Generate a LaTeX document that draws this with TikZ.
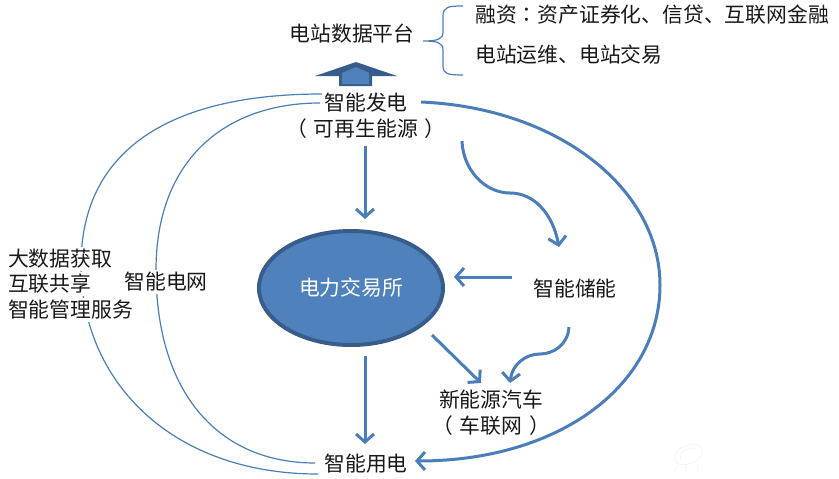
\documentclass[tikz,border=0pt]{standalone}
\usepackage{fontspec}
\setmainfont{Noto Sans CJK SC}
\newfontfamily\tcfont{Noto Sans CJK TC}
\usetikzlibrary{arrows.meta,shapes.geometric}
\definecolor{lineblue}{HTML}{4A7EBB}
\definecolor{fillblue}{HTML}{4F81BD}
\definecolor{darkblue}{HTML}{385D8A}
\definecolor{faintgreen}{HTML}{EEF7F1}
\newcommand{\lp}{\kern-7pt（\kern7pt}
\newcommand{\rp}{\kern7pt）\kern-7pt}
\newcommand{\cln}{{\tcfont ：}}
\tikzset{
  lbl/.style={inner sep=0pt,font=\fontsize{20.8}{24}\selectfont,text=black!90},
  masklbl/.style={lbl,fill=white,inner ysep=2pt},
  flowline/.style={draw=lineblue,line width=3pt,-{Straight Barb[length=8pt,width=18pt,line width=3pt]}},
  thinline/.style={draw=lineblue,line width=1.2pt}
}
\begin{document}
\begin{tikzpicture}[x=1pt,y=-1pt]
\useasboundingbox[fill=white] (0,0) rectangle (839,479);
% thin arcs, under the labels
\coordinate (o1) at (322,94);
\coordinate (o2) at (318,474);
\coordinate (i1) at (320,103);
\coordinate (i2) at (315,463);
\draw[thinline] (o1) .. controls (170,94) and (81,150) .. (81,265)
  .. controls (81,380) and (170,474) .. (o2);
\draw[thinline] (i1) .. controls (225,103) and (156,160) .. (156,270)
  .. controls (156,395) and (220,463) .. (i2);
% text nodes
\node[lbl] (plat) at (352,34) {电站数据平台};
\node[lbl,anchor=west] (fin) at (475,15) {融资\cln 资产证券化、信贷、互联网金融};
\node[lbl,anchor=west] (ops) at (475,55) {电站运维、电站交易};
\node[lbl] (gen) at (366,103) {智能发电};
\node[lbl] (gen2) at (366,129) {\lp 可再生能源\rp};
\node[masklbl] (grid) at (166,282) {智能电网};
\node[masklbl,anchor=west] (svc1) at (8,259) {大数据获取};
\node[masklbl,anchor=west] (svc2) at (8,284) {互联共享};
\node[masklbl,anchor=west] (svc3) at (8,310) {智能管理服务};
\node[lbl] (store) at (575,289) {智能储能};
\node[lbl] (ev) at (491,400) {新能源汽车};
\node[lbl] (ev2) at (491,426) {\lp 车联网\rp};
\node[lbl] (use) at (366,464) {智能用电};
\node[ellipse,draw=darkblue,fill=fillblue,line width=4pt,minimum width=184pt,minimum height=114pt,inner sep=0pt,
  font=\fontsize{20.8}{24}\selectfont,text=white] (ex) at (351,288) {电力交易所};
% up arrow
\fill[darkblue] (356,62) -- (397,76) -- (372,76) -- (372,86) -- (339,86) -- (339,76) -- (315,76) -- cycle;
\fill[fillblue] (356,67) -- (369,73) -- (369,84) -- (342,84) -- (342,73) -- cycle;
% brace
\coordinate (bt) at (463,6);
\coordinate (bb) at (463,75);
\coordinate (bm) at (423,41);
\draw[thinline] (bt) .. controls (448,6) and (443,7) .. (443,16) -- (443,32)
  .. controls (443,39) and (438,41) .. (bm)
  (bm) .. controls (438,41) and (443,43) .. (443,50) -- (443,66)
  .. controls (443,74) and (448,75) .. (bb);
% thick connectors
\coordinate (g1) at (421,102);
\coordinate (u1) at (415,461);
\draw[flowline] (g1) .. controls (560,108) and (660,190) .. (660,285)
  .. controls (660,385) and (560,461) .. (u1);
\coordinate (a1) at (365,146);
\coordinate (a2) at (365,219);
\draw[flowline] (a1) -- (a2);
\coordinate (a3) at (512,277);
\coordinate (a4) at (454,277);
\draw[flowline] (a3) -- (a4);
\coordinate (a5) at (365,356);
\coordinate (a6) at (365,444);
\draw[flowline] (a5) -- (a6);
\coordinate (a7) at (432,335);
\coordinate (a8) at (481,383);
\draw[flowline] (a7) -- (a8);
\coordinate (c1) at (462,141);
\coordinate (c2) at (559,247);
\draw[flowline] (c1) .. controls (463,170) and (485,193) .. (510,193)
  .. controls (535,193) and (553,215) .. (c2);
\coordinate (d1) at (569,327);
\coordinate (d2) at (510,383);
\draw[flowline] (d1) .. controls (568,345) and (553,354) .. (540,354)
  .. controls (525,354) and (512,365) .. (d2);
% faint mark
\draw[faintgreen,line width=.7pt] (676,462) .. controls (670,450) and (688,442) .. (698,445) .. controls (706,449) and (702,460) .. (692,463) .. controls (684,466) and (678,465) .. (676,462);
\draw[faintgreen,line width=.7pt] (681,460) .. controls (678,452) and (690,446) .. (695,449);
\draw[faintgreen,line width=.7pt] (676,467) -- (674,472) (686,465) -- (685,472) (697,463) -- (698,472);
\end{tikzpicture}
\end{document}
